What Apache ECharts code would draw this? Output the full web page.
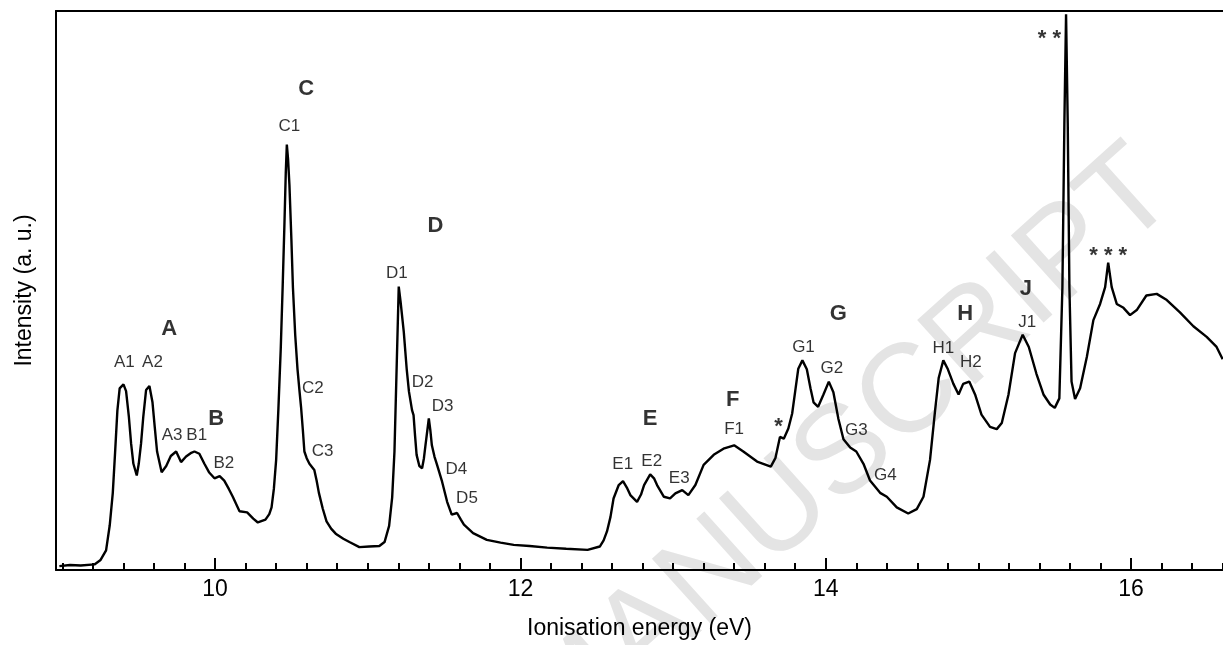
<!DOCTYPE html>
<html>
<head>
<meta charset="utf-8">
<title>Photoelectron spectrum</title>
<script src="https://cdn.jsdelivr.net/npm/echarts@6.0.0/dist/echarts.min.js"></script>
<style>
  html, body { margin: 0; padding: 0; background: #fff; }
  #chart { width: 1223px; height: 645px; }
</style>
</head>
<body>
<div id="chart"></div>
<script>
// ionisation energy (eV) and intensity (a. u., 0-100)
var energy = [
  8.98, 9.05, 9.12, 9.21, 9.25, 9.286, 9.31, 9.33, 9.345, 9.36, 9.375, 9.40, 9.417, 9.435, 9.45, 9.465,
  9.487, 9.50, 9.515, 9.53, 9.548, 9.57, 9.59, 9.605, 9.62, 9.65, 9.68, 9.71, 9.745, 9.777, 9.81, 9.84,
  9.865, 9.897, 9.93, 9.96, 9.996, 10.03, 10.06, 10.09, 10.116, 10.16, 10.21, 10.25, 10.28, 10.33, 10.355,
  10.37, 10.385, 10.40, 10.415, 10.43, 10.443, 10.454, 10.463, 10.47, 10.478, 10.487, 10.50, 10.51, 10.525,
  10.54, 10.553, 10.563, 10.575, 10.585, 10.60, 10.618, 10.65, 10.665, 10.68, 10.705, 10.73, 10.76, 10.79,
  10.84, 10.88, 10.945, 11.01, 11.076, 11.11, 11.14, 11.16, 11.175, 11.19, 11.203, 11.215, 11.236, 11.255,
  11.27, 11.29, 11.30, 11.31, 11.32, 11.338, 11.356, 11.368, 11.378, 11.40, 11.41, 11.42, 11.437, 11.454,
  11.487, 11.52, 11.55, 11.585, 11.61, 11.63, 11.69, 11.78, 11.87, 11.956, 12.06, 12.175, 12.30, 12.44,
  12.52, 12.545, 12.567, 12.59, 12.61, 12.644, 12.672, 12.70, 12.72, 12.764, 12.79, 12.81, 12.85, 12.875,
  12.895, 12.94, 12.98, 13.015, 13.06, 13.10, 13.146, 13.2, 13.266, 13.33, 13.40, 13.46, 13.55, 13.64,
  13.67, 13.70, 13.725, 13.755, 13.78, 13.80, 13.82, 13.847, 13.876, 13.90, 13.92, 13.95, 13.985, 14.02,
  14.05, 14.083, 14.116, 14.16, 14.20, 14.247, 14.29, 14.356, 14.40, 14.465, 14.54, 14.596, 14.64, 14.683,
  14.716, 14.74, 14.77, 14.80, 14.836, 14.87, 14.90, 14.94, 14.978, 15.02, 15.076, 15.12, 15.153, 15.197,
  15.24, 15.29, 15.33, 15.38, 15.426, 15.47, 15.50, 15.53, 15.55, 15.563, 15.574, 15.585, 15.596, 15.61,
  15.633, 15.666, 15.71, 15.753, 15.797, 15.83, 15.85, 15.873, 15.906, 15.95, 15.993, 16.037, 16.10,
  16.168, 16.234, 16.32, 16.408, 16.495, 16.56, 16.60
];
var intensity = [
  0.7, 0.9, 0.8, 1.0, 1.8, 3.5, 8, 13.8, 21, 28.5, 32.5, 33.2, 32, 27.5, 22.6, 19,
  16.9, 19, 22.6, 27.5, 32.2, 32.9, 30, 25.5, 21.2, 17.5, 18.6, 20.4, 21.2, 19.3, 20.3, 20.9,
  21.2, 20.8, 19.0, 17.5, 16.4, 16.8, 16, 14.5, 13.1, 10.5, 10.3, 9.2, 8.5, 9.0, 10,
  11.2, 14.5, 19.7, 29, 39.5, 51, 61.6, 71, 76.1, 73.5, 68.9, 59, 50.5, 42,
  35.9, 32, 29.2, 25, 21.2, 20, 19.0, 17.9, 16, 13.8, 11, 8.7, 7.4, 6.5,
  5.6, 5.0, 4.1, 4.2, 4.3, 5.0, 7.9, 13, 21.2, 37, 50.7, 48, 42.6, 36,
  31.9, 28.6, 27.7, 24, 20.6, 18.6, 18.2, 20, 22.3, 27.1, 25, 22.3, 20.3, 18.8,
  15.8, 12.2, 9.9, 10.2, 9, 8.1, 6.6, 5.4, 4.9, 4.5, 4.3, 4.0, 3.8, 3.6,
  4.2, 5.3, 6.9, 9.5, 12.8, 15.2, 15.9, 14.6, 13.4, 12.2, 13.5, 15.2, 17.1, 16.4,
  15.2, 13.1, 12.8, 13.7, 14.3, 13.4, 15.2, 18.8, 20.6, 21.7, 22.3, 21.2, 19.4, 18.5,
  20.0, 23.8, 23.5, 25.3, 28, 32, 36, 37.5, 35.9, 32.5, 30.0, 29.2, 31.4, 33.7,
  31.8, 27.0, 23.4, 21.9, 21.2, 19.0, 16.0, 13.8, 13.1, 11.2, 10.1, 10.9, 13.1, 19.7,
  28.5, 34.4, 37.5, 35.9, 33.3, 31.4, 33.3, 33.7, 31.4, 27.8, 25.6, 25.2, 26.3, 31.4,
  38.8, 42.1, 39.9, 35.1, 31.4, 29.6, 29.0, 30.7, 50.5, 79.9, 99.4, 79.9, 50.5, 33.7,
  30.6, 32.5, 38.1, 44.7, 47.6, 50.6, 55, 50.6, 47.6, 46.9, 45.6, 46.5, 49.1,
  49.4, 48.3, 46.1, 43.6, 41.7, 39.9, 37.7
];

// band labels (bold) and peak labels, placed in data coordinates
var bandNames = ['A', 'B', 'C', 'D', 'E', 'F', 'G', 'H', 'J', '*', '* *', '* * *'];
var bandX = [9.70, 10.007, 10.596, 11.443, 12.85, 13.39, 14.083, 14.913, 15.31, 13.69, 15.465, 15.85];
var bandY = [43.2, 27.0, 86.0, 61.6, 27.1, 30.4, 45.8, 45.8, 50.2, 25.6, 95.0, 56.2];

var peakNames = ['A1', 'A2', 'A3', 'B1', 'B2', 'C1', 'C2', 'C3', 'D1', 'D2', 'D3', 'D4', 'D5',
  'E1', 'E2', 'E3', 'F1', 'G1', 'G2', 'G3', 'G4', 'H1', 'H2', 'J1'];
var peakX = [9.406, 9.59, 9.718, 9.88, 10.057, 10.487, 10.64, 10.705, 11.19, 11.36, 11.49, 11.58, 11.65,
  12.67, 12.86, 13.04, 13.40, 13.854, 14.04, 14.2, 14.39, 14.77, 14.95, 15.32];
var peakY = [37.2, 37.2, 24.1, 24.1, 19.0, 79.4, 32.5, 21.2, 53.1, 33.6, 29.2, 18.1, 12.8,
  18.9, 19.4, 16.4, 25.1, 39.9, 36.0, 25.0, 16.9, 39.7, 37.2, 44.3];

var majorTicks = [10, 12, 14, 16];
var minorTicks = [9.0, 9.2, 9.4, 9.6, 9.8, 10.2, 10.4, 10.6, 10.8, 11.0, 11.2, 11.4, 11.6, 11.8,
  12.2, 12.4, 12.6, 12.8, 13.0, 13.2, 13.4, 13.6, 13.8, 14.2, 14.4, 14.6, 14.8, 15.0, 15.2,
  15.4, 15.6, 15.8, 16.2, 16.4, 16.6];

var xMin = 8.958, xMax = 16.602;
var font = '"Liberation Sans", Arial, sans-serif';

var chart = echarts.init(document.getElementById('chart'));

var spectrum = [];
for (var i = 0; i < energy.length; i++) {
  spectrum.push([energy[i], intensity[i]]);
}

var labels = [];
for (var j = 0; j < bandNames.length; j++) {
  labels.push({
    value: [bandX[j], bandY[j]],
    label: { formatter: bandNames[j], fontWeight: 'bold', fontSize: 22 }
  });
}
for (var k = 0; k < peakNames.length; k++) {
  labels.push({
    value: [peakX[k], peakY[k]],
    label: { formatter: peakNames[k], fontSize: 17 }
  });
}

var option = {
  animation: false,
  backgroundColor: '#fff',
  textStyle: { fontFamily: font },
  grid: { left: 56, right: 0, top: 11, bottom: 73 },
  // faint "MANUSCRIPT" watermark running diagonally behind the curve
  graphic: [{
    type: 'text',
    x: 848,
    y: 452,
    rotation: 42 * Math.PI / 180,
    z: -10,
    silent: true,
    style: {
      text: 'MANUSCRIPT',
      font: '126px ' + font,
      fill: '#e4e4e4',
      align: 'center',
      verticalAlign: 'middle'
    }
  }],
  xAxis: [
    {
      type: 'value',
      min: xMin,
      max: xMax,
      position: 'bottom',
      name: 'Ionisation energy (eV)',
      nameLocation: 'middle',
      nameGap: 47,
      nameTextStyle: { fontSize: 23, color: '#000', fontFamily: font },
      axisLine: { lineStyle: { color: '#000', width: 2 } },
      axisTick: { inside: true, length: 12, customValues: majorTicks, lineStyle: { color: '#000', width: 2 } },
      axisLabel: { customValues: majorTicks, fontSize: 23, color: '#000', margin: 8, fontFamily: font },
      splitLine: { show: false }
    },
    {
      // minor ticks every 0.2 eV
      type: 'value',
      min: xMin,
      max: xMax,
      position: 'bottom',
      axisLine: { show: false },
      axisTick: { inside: true, length: 7, customValues: minorTicks, lineStyle: { color: '#000', width: 2 } },
      axisLabel: { show: false },
      splitLine: { show: false }
    },
    {
      // top frame line
      type: 'value',
      min: xMin,
      max: xMax,
      position: 'top',
      axisLine: { lineStyle: { color: '#000', width: 2 } },
      axisTick: { show: false },
      axisLabel: { show: false },
      splitLine: { show: false }
    }
  ],
  yAxis: {
    type: 'value',
    min: 0,
    max: 100,
    name: 'Intensity (a. u.)',
    nameLocation: 'middle',
    nameGap: 20,
    nameTextStyle: { fontSize: 23, color: '#000', fontFamily: font },
    axisLine: { show: true, lineStyle: { color: '#000', width: 2 } },
    axisTick: { show: false },
    axisLabel: { show: false },
    splitLine: { show: false }
  },
  series: [
    {
      name: 'spectrum',
      type: 'line',
      data: spectrum,
      showSymbol: false,
      lineStyle: { color: '#000', width: 2.4 },
      z: 3
    },
    {
      name: 'labels',
      type: 'scatter',
      data: labels,
      symbolSize: 1,
      itemStyle: { color: 'rgba(0,0,0,0)' },
      silent: true,
      label: {
        show: true,
        position: 'inside',
        color: '#000',
        fontFamily: font
      },
      z: 4
    }
  ]
};

chart.setOption(option);
</script>
</body>
</html>
